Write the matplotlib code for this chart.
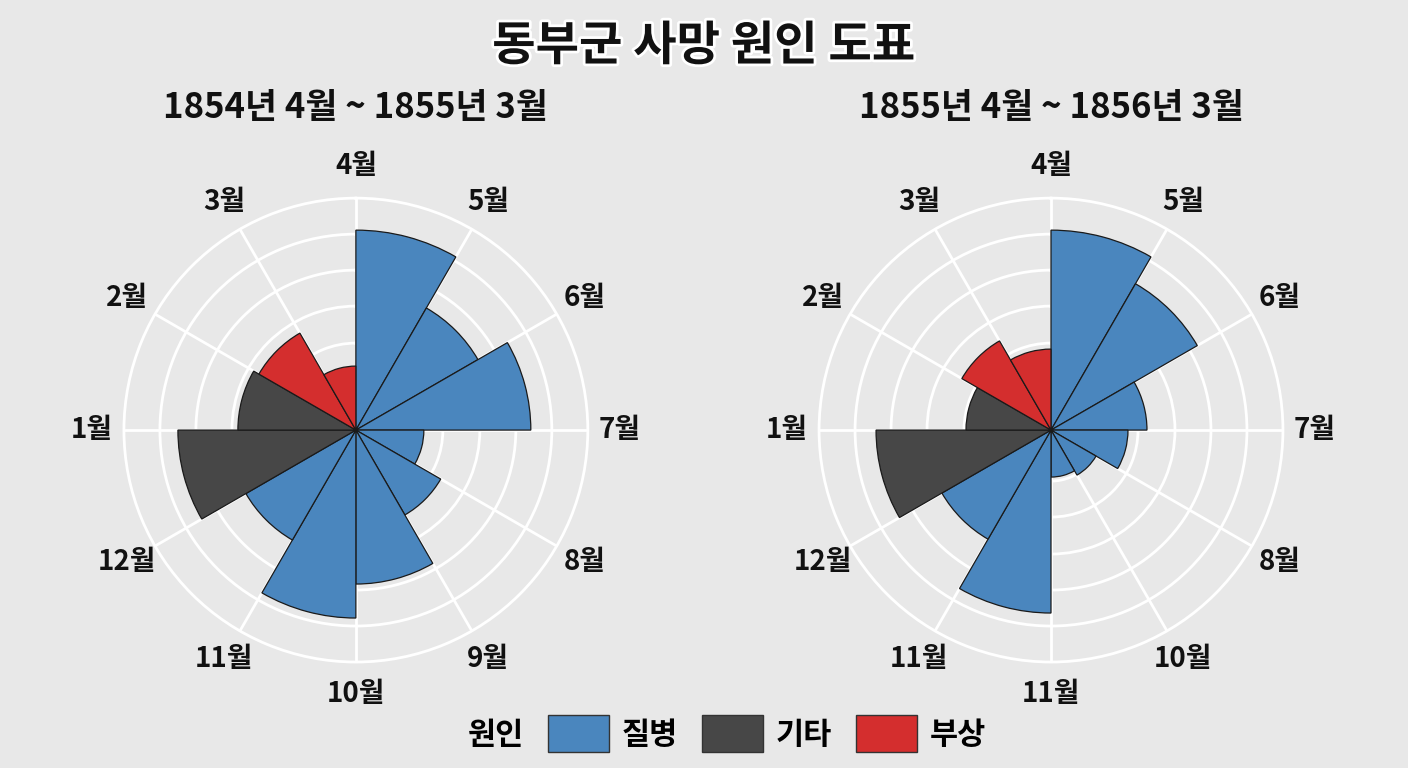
import matplotlib.pyplot as plt
import matplotlib.patheffects as pe
from matplotlib.patches import Patch
import numpy as np

plt.rcParams['font.family'] = ['Noto Sans CJK KR', 'DejaVu Sans']

# wedges clockwise from the top (4월)
labels_a = ['4월', '5월', '6월', '7월', '8월', '9월', '10월', '11월', '12월', '1월', '2월', '3월']
values_a = [200, 141, 175, 68, 98, 154, 188, 127, 178, 118, 112, 64]
labels_b = ['4월', '5월', '6월', '7월', '8월', '10월', '11월', '11월', '12월', '1월', '2월', '3월']
values_b = [200, 169, 96, 77, 52, 47, 183, 126, 175, 85, 103, 81]
causes = ['질병'] * 8 + ['기타'] * 2 + ['부상'] * 2
cause_colors = {'질병': '#4a86be', '기타': '#474747', '부상': '#d42e2e'}
rings = [14, 51, 87, 124, 160, 196]
rmax = 232

bg = '#e8e8e8'
fig = plt.figure(figsize=(14.08, 7.68), dpi=100, facecolor=bg)

def rose(rect, labels, values, title):
    ax = fig.add_axes(rect, projection='polar')
    ax.set_facecolor(bg)
    ax.set_theta_zero_location('N')
    ax.set_theta_direction(-1)
    w = 2 * np.pi / 12
    th = np.arange(12) * w
    ax.bar(th, values, width=w, align='edge', color=[cause_colors[c] for c in causes],
           edgecolor='#1a1a1a', linewidth=0.9, zorder=3)
    ax.set_ylim(0, rmax)
    ax.set_yticks(rings)
    ax.set_yticklabels([])
    ax.set_xticks(th)
    ax.set_xticklabels([])
    ax.grid(color='white', linewidth=2)
    ax.spines['polar'].set_color('white')
    ax.spines['polar'].set_linewidth(2)
    for t, lab in zip(th, labels):
        ax.text(t, 264, lab, ha='center', va='center', fontsize=20, fontweight='bold',
                color='#111111', clip_on=False)
    ax.set_title(title, fontsize=25, fontweight='bold', pad=58, color='#111111')
    return ax

rose([0.088, 0.138, 0.3295, 0.604], labels_a, values_a, '1854년 4월 ~ 1855년 3월')
rose([0.5817, 0.138, 0.3295, 0.604], labels_b, values_b, '1855년 4월 ~ 1856년 3월')

fig.text(0.5, 0.94, '동부군 사망 원인 도표', ha='center', va='center', fontsize=34,
         fontweight='bold', color='#111111',
         path_effects=[pe.withStroke(linewidth=4, foreground='white')])

handles = [Patch(color='none')] + [Patch(facecolor=cause_colors[c], edgecolor='#333333')
                                   for c in ['질병', '기타', '부상']]
leg = fig.legend(handles, ['원인', '질병', '기타', '부상'], loc='center',
                 bbox_to_anchor=(0.49, 0.045), ncol=4, frameon=False, fontsize=22,
                 handlelength=2.0, handleheight=1.5, handletextpad=0.4, columnspacing=0.8)
for t in leg.get_texts():
    t.set_fontweight('bold')

fig.savefig('out.png', dpi=100, facecolor=bg)
